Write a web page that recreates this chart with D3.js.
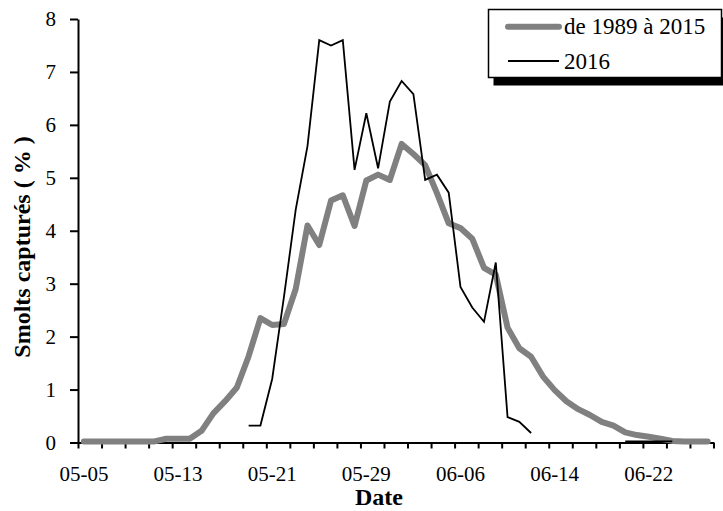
<!DOCTYPE html>
<html>
<head>
<meta charset="utf-8">
<script src="https://cdn.jsdelivr.net/npm/d3@7"></script>
</head>
<body style="margin:0;background:#fff">
<svg id="chart" width="723" height="511" style="display:block"></svg>
<script>
// Daily categories (mm-dd)
const days = [
  "05-05","05-06","05-07","05-08","05-09","05-10","05-11","05-12","05-13","05-14",
  "05-15","05-16","05-17","05-18","05-19","05-20","05-21","05-22","05-23","05-24",
  "05-25","05-26","05-27","05-28","05-29","05-30","05-31","06-01","06-02","06-03",
  "06-04","06-05","06-06","06-07","06-08","06-09","06-10","06-11","06-12","06-13",
  "06-14","06-15","06-16","06-17","06-18","06-19","06-20","06-21","06-22","06-23",
  "06-24","06-25","06-26","06-27"
];

// Labelled dates on the x axis
const tickLabels = ["05-05","05-13","05-21","05-29","06-06","06-14","06-22"];
const yTicks = [0, 1, 2, 3, 4, 5, 6, 7, 8];

// Percentage of smolts captured per day, 1989–2015 average
const avg1989to2015 = [
  0.02, 0.02, 0.02, 0.02, 0.02, 0.02, 0.02, 0.07, 0.07, 0.07,
  0.22, 0.55, 0.78, 1.04, 1.63, 2.35, 2.22, 2.24, 2.90, 4.10,
  3.73, 4.57, 4.67, 4.09, 4.95, 5.06, 4.96, 5.64, 5.45, 5.24,
  4.71, 4.14, 4.05, 3.85, 3.30, 3.17, 2.17, 1.78, 1.62, 1.25,
  0.99, 0.78, 0.63, 0.52, 0.39, 0.32, 0.19, 0.14, 0.11, 0.07,
  0.03, 0.02, 0.02, 0.02
];

// Percentage of smolts captured per day in 2016 (null = no record)
const year2016 = [
  null, null, null, null, null, null, null, null, null, null,
  null, null, null, null, 0.32, 0.32, 1.20, 2.75, 4.40, 5.60,
  7.60, 7.50, 7.60, 5.15, 6.22, 5.18, 6.44, 6.83, 6.58, 4.96,
  5.06, 4.72, 2.94, 2.55, 2.28, 3.40, 0.48, 0.39, 0.18, null,
  null, null, null, null, null, null, 0.02, 0.02, 0.02, 0.02,
  0.02, null, null, null
];

const seriesNames = ["de 1989 à 2015", "2016"];

const FONT = "Liberation Serif";
const svg = d3.select("#chart").attr("font-family", FONT);

const plotLeft = 78, plotRight = 713.5, plotTop = 19, plotBottom = 442.5;

const x = d3.scaleBand().domain(days).range([plotLeft, plotRight]).padding(0);
const xEdge = d3.scaleLinear().domain([0, days.length]).range([plotLeft, plotRight]);
const y = d3.scaleLinear().domain([0, 8]).range([plotBottom, plotTop]);
const cx = d => x(d) + x.bandwidth() / 2;

// Y axis
const yAxis = svg.append("g")
  .attr("transform", `translate(${plotLeft},0)`)
  .call(d3.axisLeft(y).tickValues(yTicks).tickSize(8).tickSizeOuter(0).tickPadding(14)
    .tickFormat(d3.format("d")));
yAxis.attr("font-family", FONT);
yAxis.select(".domain").attr("stroke", "#000").attr("stroke-width", 2);
yAxis.selectAll(".tick line").attr("stroke", "#000").attr("stroke-width", 2);
yAxis.selectAll(".tick text").attr("font-family", FONT).attr("font-size", 21)
  .attr("fill", "#000").attr("dy", "0.33em");

// X axis: tick marks every two days on category boundaries
const xTickAxis = svg.append("g")
  .attr("transform", `translate(0,${plotBottom})`)
  .call(d3.axisBottom(xEdge).tickValues(d3.range(0, days.length + 1, 2))
    .tickSize(6).tickSizeOuter(0).tickFormat(""));
xTickAxis.select(".domain").attr("stroke", "#000").attr("stroke-width", 2);
xTickAxis.selectAll(".tick line").attr("stroke", "#000").attr("stroke-width", 2);

// X axis labels centred on their day
const xLabelAxis = svg.append("g")
  .attr("transform", `translate(0,${plotBottom})`)
  .call(d3.axisBottom(x).tickValues(tickLabels).tickSize(0));
xLabelAxis.attr("font-family", FONT);
xLabelAxis.select(".domain").remove();
xLabelAxis.selectAll(".tick text").attr("font-family", FONT).attr("font-size", 21)
  .attr("fill", "#000").attr("y", 38.5).attr("dy", 0);

// Axis titles
svg.append("text")
  .attr("x", 379).attr("y", 505)
  .attr("text-anchor", "middle")
  .attr("font-family", FONT)
  .attr("font-size", 24).attr("font-weight", "bold")
  .text("Date");

svg.append("text")
  .attr("transform", "translate(30,247) rotate(-90)")
  .attr("text-anchor", "middle")
  .attr("font-family", FONT)
  .attr("font-size", 24).attr("font-weight", "bold")
  .text("Smolts capturés ( % )");

// Lines
const line = d3.line()
  .defined(d => d.v !== null)
  .x(d => cx(d.day))
  .y(d => y(d.v));

const avgData = days.map((day, i) => ({ day, v: avg1989to2015[i] }));
const data2016 = days.map((day, i) => ({ day, v: year2016[i] }));

svg.append("path")
  .datum(avgData)
  .attr("d", line)
  .attr("fill", "none")
  .attr("stroke", "#808080")
  .attr("stroke-width", 6)
  .attr("stroke-linejoin", "round")
  .attr("stroke-linecap", "round");

svg.append("path")
  .datum(data2016)
  .attr("d", line)
  .attr("fill", "none")
  .attr("stroke", "#000")
  .attr("stroke-width", 1.8)
  .attr("stroke-linejoin", "miter");

// Legend with drop shadow
const legend = svg.append("g");
legend.append("rect")
  .attr("x", 493.5).attr("y", 17.5).attr("width", 233).attr("height", 68)
  .attr("fill", "#000");
legend.append("rect")
  .attr("x", 488.5).attr("y", 9.5).attr("width", 233).attr("height", 68)
  .attr("fill", "#fff").attr("stroke", "#000").attr("stroke-width", 1.5);

const legendItems = [
  { name: seriesNames[0], color: "#808080", width: 6, cap: "round", y: 26.7 },
  { name: seriesNames[1], color: "#000", width: 1.8, cap: "butt", y: 61 }
];
legendItems.forEach(item => {
  legend.append("line")
    .attr("x1", 508).attr("x2", 559).attr("y1", item.y).attr("y2", item.y)
    .attr("stroke", item.color).attr("stroke-width", item.width)
    .attr("stroke-linecap", item.cap);
  legend.append("text")
    .attr("x", 564).attr("y", item.y + 7.5)
    .attr("font-family", FONT)
    .attr("font-size", 23)
    .attr("fill", "#000")
    .text(item.name);
});
</script>
</body>
</html>
